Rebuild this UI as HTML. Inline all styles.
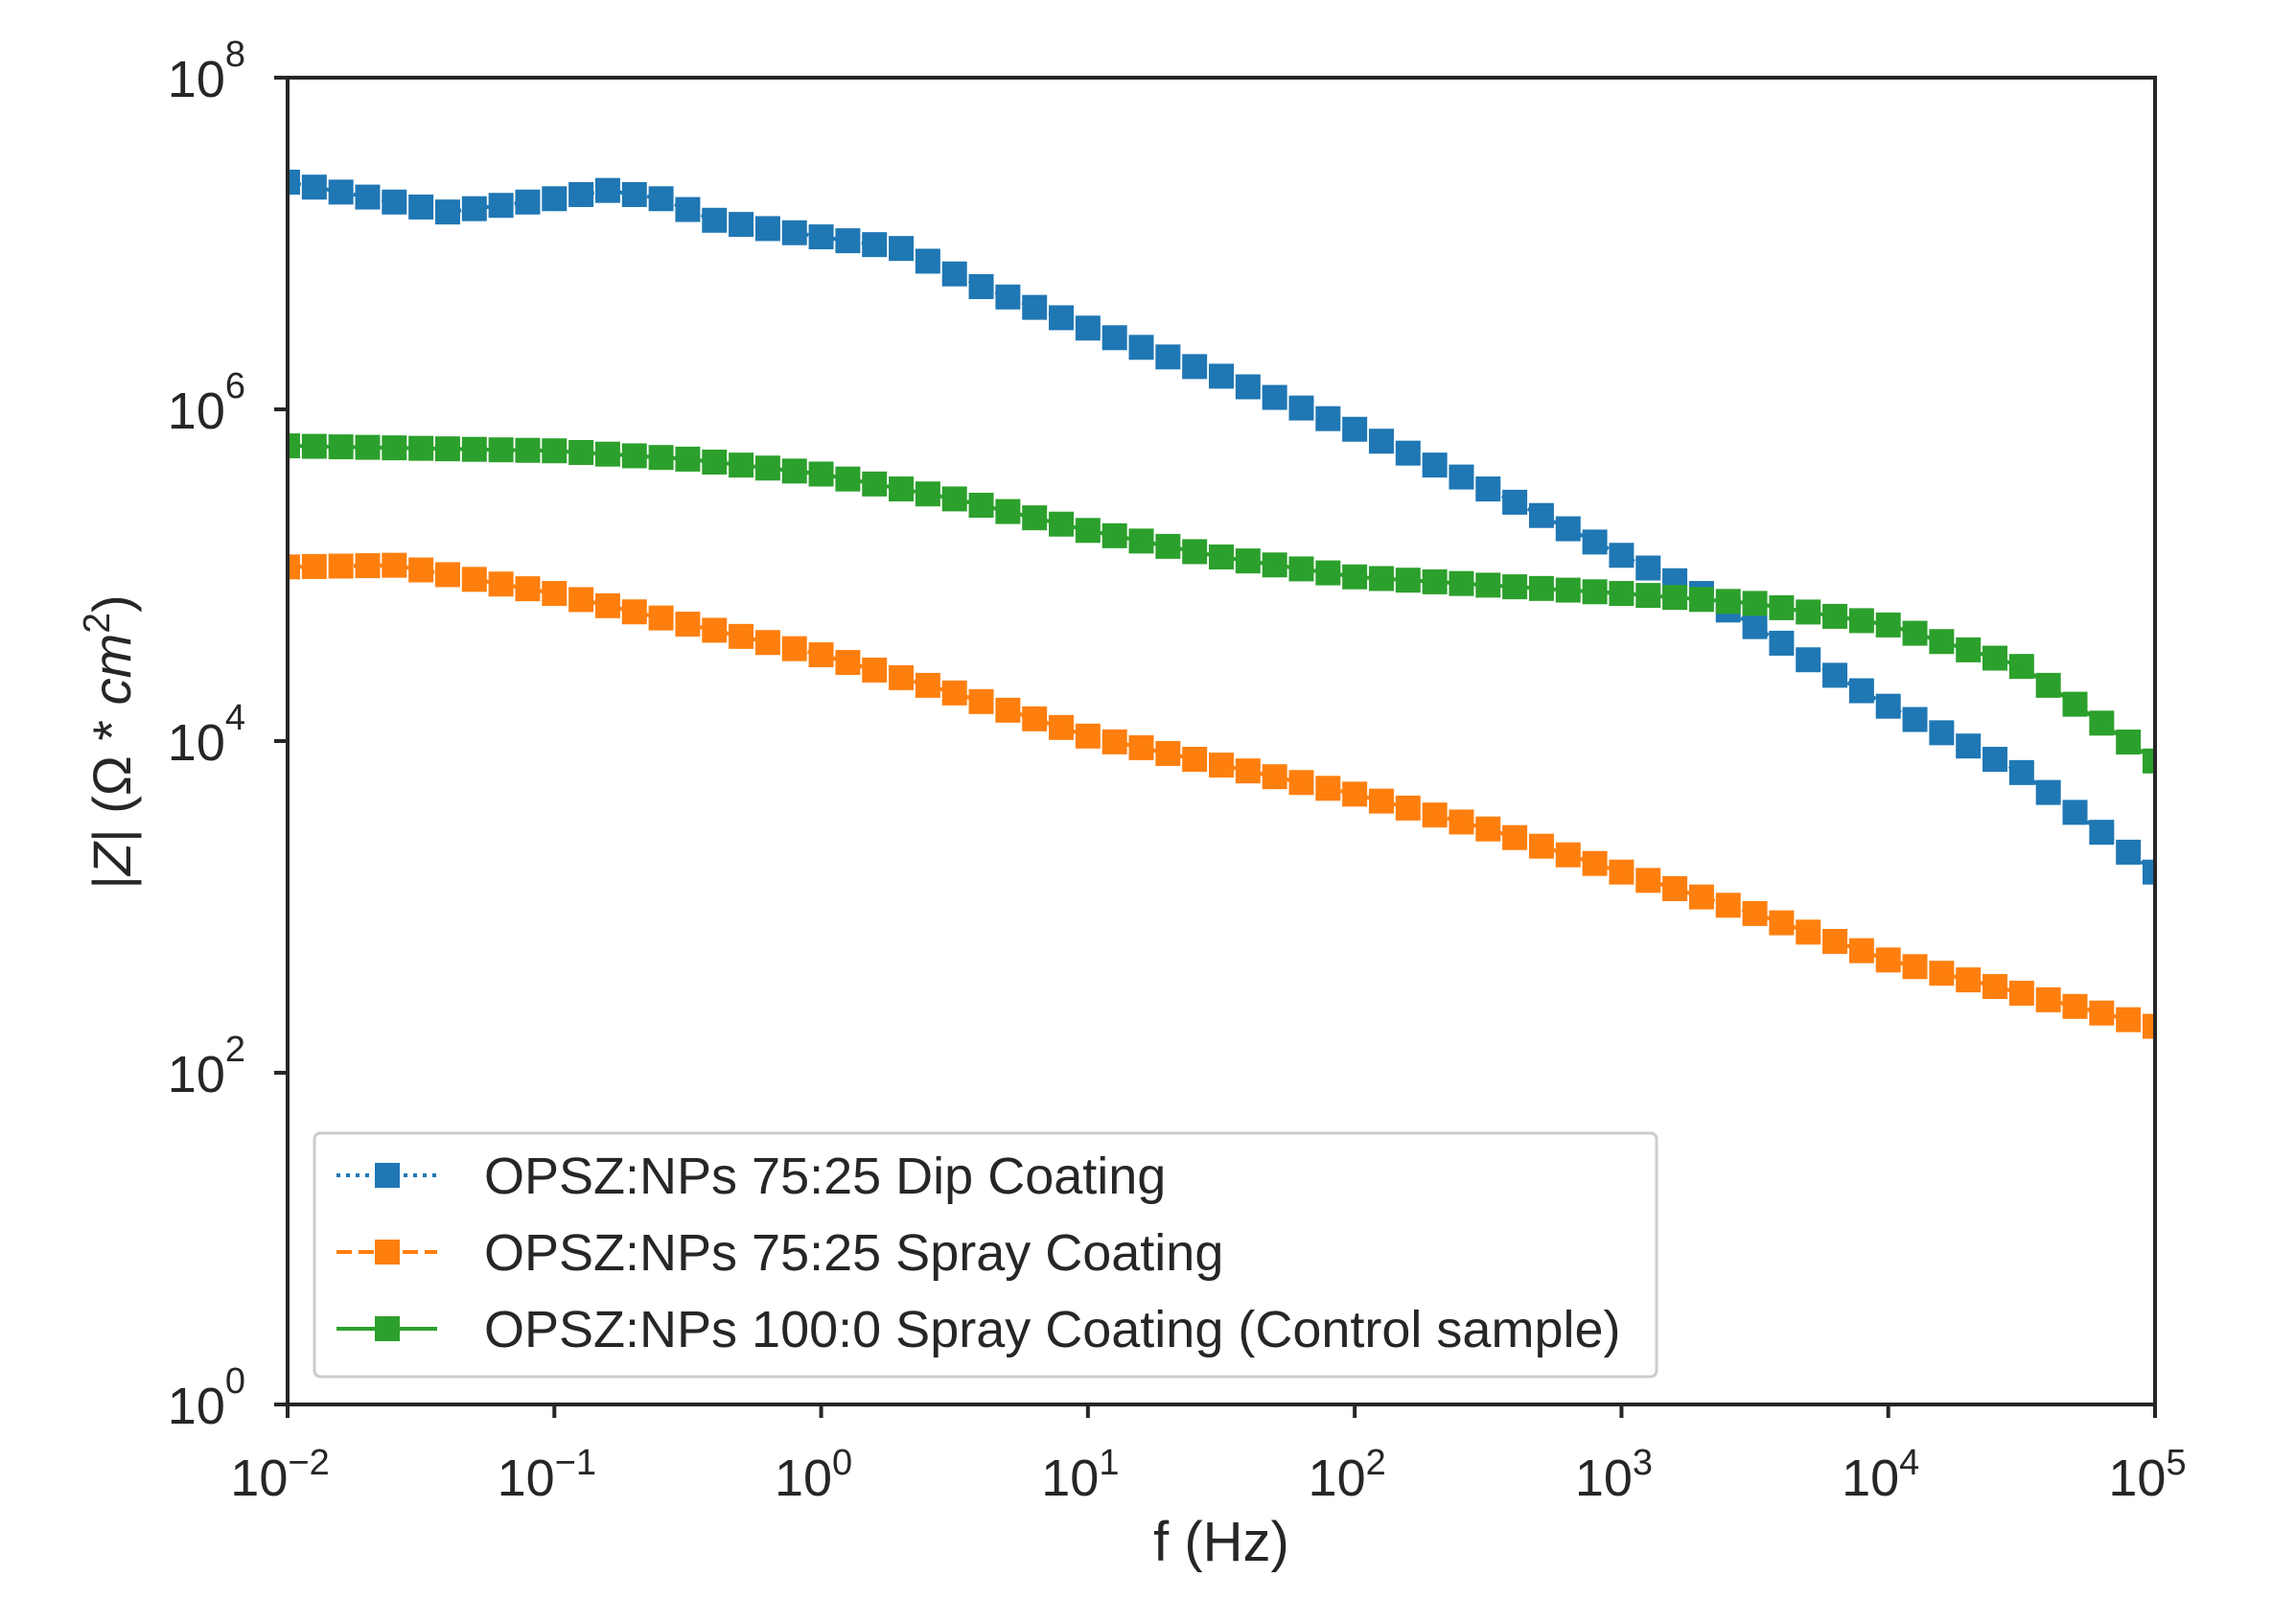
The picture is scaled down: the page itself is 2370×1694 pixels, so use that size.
<!DOCTYPE html>
<html><head><meta charset="utf-8">
<style>html,body{margin:0;padding:0;background:#fff}svg{display:block}text{font-family:"Liberation Sans","DejaVu Sans",sans-serif;fill:#262626}</style>
</head><body>
<svg id="s" width="2370" height="1694" viewBox="0 0 2370 1694" xmlns="http://www.w3.org/2000/svg">
<rect width="2370" height="1694" fill="#fff"/>
<g id="data"></g>
<rect x="300" y="81" width="1948" height="1384" fill="none" stroke="#262626" stroke-width="4"/>
<g id="ticks" stroke="#262626" stroke-width="4"></g>
<g id="labels" font-size="54"></g>
<text x="1274" y="1628" font-size="58" text-anchor="middle">f (Hz)</text>
<text transform="translate(136,774) rotate(-90)" font-size="56" text-anchor="middle">|<tspan font-style="italic">Z</tspan>| (Ω * <tspan font-style="italic">cm</tspan><tspan dy="-22" font-size="39">2</tspan><tspan dy="22">)</tspan></text>
<rect x="328" y="1182" width="1400" height="254" rx="6" fill="#fff" fill-opacity="0.85" stroke="#ccc" stroke-width="3"/>
<line x1="351" y1="1226" x2="456" y2="1226" stroke="#1f77b4" stroke-width="4" stroke-dasharray="4,6"/>
<rect x="391" y="1213" width="26" height="26" fill="#1f77b4"/>
<line x1="351" y1="1306" x2="456" y2="1306" stroke="#ff7f0e" stroke-width="4" stroke-dasharray="16,7"/>
<rect x="391" y="1293" width="26" height="26" fill="#ff7f0e"/>
<line x1="351" y1="1386" x2="456" y2="1386" stroke="#2ca02c" stroke-width="4"/>
<rect x="391" y="1373" width="26" height="26" fill="#2ca02c"/>
<g font-size="54">
<text x="505" y="1245">OPSZ:NPs 75:25 Dip Coating</text>
<text x="505" y="1325">OPSZ:NPs 75:25 Spray Coating</text>
<text x="505" y="1405">OPSZ:NPs 100:0 Spray Coating (Control sample)</text>
</g>
</svg>
<script>
const L=300,R=2248,T=81,B=1465;
const X=lf=>L+(lf+2)*(R-L)/7, Y=lz=>B-lz*(B-T)/8;
const NS="http://www.w3.org/2000/svg";
function el(p,t,a){const e=document.createElementNS(NS,t);for(const k in a)e.setAttribute(k,a[k]);p.appendChild(e);return e;}
const blue=[[-2,7.37],[-1.4,7.19],[-1,7.27],[-0.8,7.32],[-0.6,7.27],[-0.4,7.14],[0,7.04],[0.3,6.97],[0.6,6.74],[1,6.49],[1.5,6.2],[2,5.88],[2.5,5.52],[3,5.12],[3.3,4.89],[3.7,4.49],[4,4.21],[4.5,3.81],[5,3.21]];
const orange=[[-2,5.05],[-1.6,5.06],[-1,4.89],[0,4.52],[0.5,4.29],[1,4.03],[2,3.68],[2.5,3.47],[3,3.21],[3.5,2.96],[4,2.68],[4.5,2.48],[5,2.28]];
const green=[[-2,5.78],[-1,5.75],[-0.5,5.70],[0,5.61],[0.5,5.46],[1,5.27],[1.5,5.11],[2,4.99],[3,4.89],[3.5,4.83],[4,4.70],[4.5,4.45],[5,3.88]];
function interp(d,x){for(let i=0;i<d.length-1;i++){if(x<=d[i+1][0]+1e-9){const t=(x-d[i][0])/(d[i+1][0]-d[i][0]);return d[i][1]+t*(d[i+1][1]-d[i][1]);}}return d[d.length-1][1];}
const g=document.getElementById('data');
const clip=el(document.getElementById('s'),'clipPath',{id:'c'});el(clip,'rect',{x:L,y:T,width:R-L,height:B-T});
g.setAttribute('clip-path','url(#c)');
[[blue,'#1f77b4','4,6'],[orange,'#ff7f0e','16,7'],[green,'#2ca02c','']].forEach(([d,c,da])=>{
 let pts=[];for(let i=0;i<=70;i++){const lf=-2+i/10;pts.push([X(lf),Y(interp(d,lf))]);}
 const a={points:pts.map(p=>p.join(',')).join(' '),fill:'none',stroke:c,'stroke-width':4};if(da)a['stroke-dasharray']=da;
 el(g,'polyline',a);
 pts.forEach(p=>el(g,'rect',{x:p[0]-13,y:p[1]-13,width:26,height:26,fill:c}));
});
const tk=document.getElementById('ticks'),lb=document.getElementById('labels');
const ex=['\u22122','\u22121','0','1','2','3','4','5'];
for(let i=0;i<8;i++){const x=X(i-2);el(tk,'line',{x1:x,y1:B,x2:x,y2:B+14});
 const t=el(lb,'text',{x:x-8,y:1560,'text-anchor':'middle'});t.innerHTML='10<tspan dy="-22" font-size="38">'+ex[i]+'</tspan>';}
for(let i=0;i<=8;i+=2){const y=Y(i);el(tk,'line',{x1:L-14,y1:y,x2:L,y2:y});
 const t=el(lb,'text',{x:256,y:y+20,'text-anchor':'end'});t.innerHTML='10<tspan dy="-32" font-size="38">'+i+'</tspan>';}
</script>
</body></html>
